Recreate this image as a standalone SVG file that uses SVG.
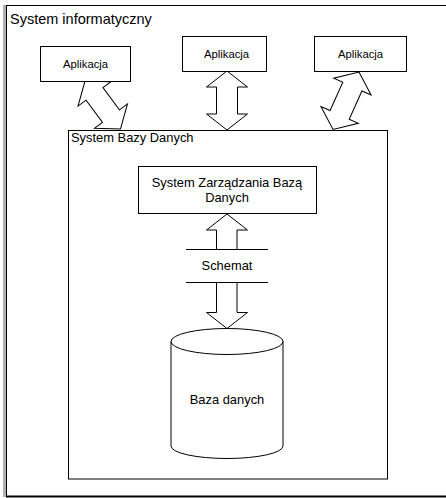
<svg xmlns="http://www.w3.org/2000/svg" width="446" height="498" viewBox="0 0 446 498">
<style>
.box{fill:#fff;stroke:#000;stroke-width:1}
.arr{fill:#fff;stroke:#000;stroke-width:1;stroke-linejoin:miter}
.ln{stroke:#000;stroke-width:1;fill:none}
text{font-family:"Liberation Sans",Arial,sans-serif;fill:#000}
.app{font-size:11.3px;text-anchor:middle}
.mid{font-size:12.9px;text-anchor:middle}
</style>
<defs>
<polygon id="dbl" points="0,-29.5 20.5,-13.5 10.5,-13.5 10.5,13.5 20.5,13.5 0,29.5 -20.5,13.5 -10.5,13.5 -10.5,-13.5 -20.5,-13.5"/>
</defs>
<g id="system-informatyczny">
<line x1="4.5" y1="5" x2="4.5" y2="497" stroke="#b0b0b0" stroke-width="3"/>
<rect class="box" x="6.5" y="5.5" width="445" height="491"/>
<line x1="6" y1="496.5" x2="446" y2="496.5" stroke="#000" stroke-width="2"/>
<text x="10" y="24" font-size="14.5px">System informatyczny</text>
</g>
<g id="connectors">
<polygon class="arr" transform="translate(102.75,105) rotate(-36.5)" points="0,-29.85 20.5,-13.85 10.5,-13.85 10.5,13.85 20.5,13.85 0,29.85 -20.5,13.85 -10.5,13.85 -10.5,-13.85 -20.5,-13.85"/>
<polygon class="arr" points="227,71 247.5,87 237.5,87 237.5,114 247.5,114 227,130 206.5,114 216.5,114 216.5,87 206.5,87"/>
<polygon class="arr" transform="translate(346,100.75) rotate(24.3)" points="0,-31.5 20.5,-15.5 10.5,-15.5 10.5,15.5 20.5,15.5 0,31.5 -20.5,15.5 -10.5,15.5 -10.5,-15.5 -20.5,-15.5"/>
</g>
<g id="app1">
<rect class="box" x="40.5" y="46.5" width="90" height="35"/>
<text class="app" x="85.5" y="68">Aplikacja</text>
</g>
<g id="app2">
<rect class="box" x="182.5" y="36.5" width="84" height="35"/>
<text class="app" x="226.5" y="58">Aplikacja</text>
</g>
<g id="app3">
<rect class="box" x="314.5" y="36.5" width="92" height="35"/>
<text class="app" x="360.5" y="58">Aplikacja</text>
</g>
<g id="system-bazy-danych">
<rect class="box" x="68.5" y="130.5" width="319" height="348.5"/>
<text x="71" y="142" font-size="12.9px">System Bazy Danych</text>
</g>
<g id="connectors-inner">
<polygon class="arr" points="227,214 247.5,230 237,230 237,249.5 216.5,249.5 216.5,230 206.5,230"/>
<polygon class="arr" points="216.5,282.5 237,282.5 237,312.5 247.5,312.5 227,328.5 206.5,312.5 216.5,312.5"/>
</g>
<g id="dbms">
<rect class="box" x="138.5" y="166.5" width="178" height="47"/>
<text class="mid" x="227" y="186.5">System Zarządzania Bazą</text>
<text class="mid" x="227" y="202">Danych</text>
</g>
<g id="schemat">
<line class="ln" x1="186" y1="249.5" x2="268" y2="249.5"/>
<line class="ln" x1="186" y1="282.5" x2="268" y2="282.5"/>
<text class="mid" x="227" y="270.3">Schemat</text>
</g>
<g id="baza-danych">
<path class="box" d="M171,341.5 A56,13 0 0,1 283,341.5 L283,446 A56,12.5 0 0,1 171,446 Z"/>
<path class="ln" d="M171,341.5 A56,13 0 0,0 283,341.5"/>
<text class="mid" x="227" y="404">Baza danych</text>
</g>
</svg>
